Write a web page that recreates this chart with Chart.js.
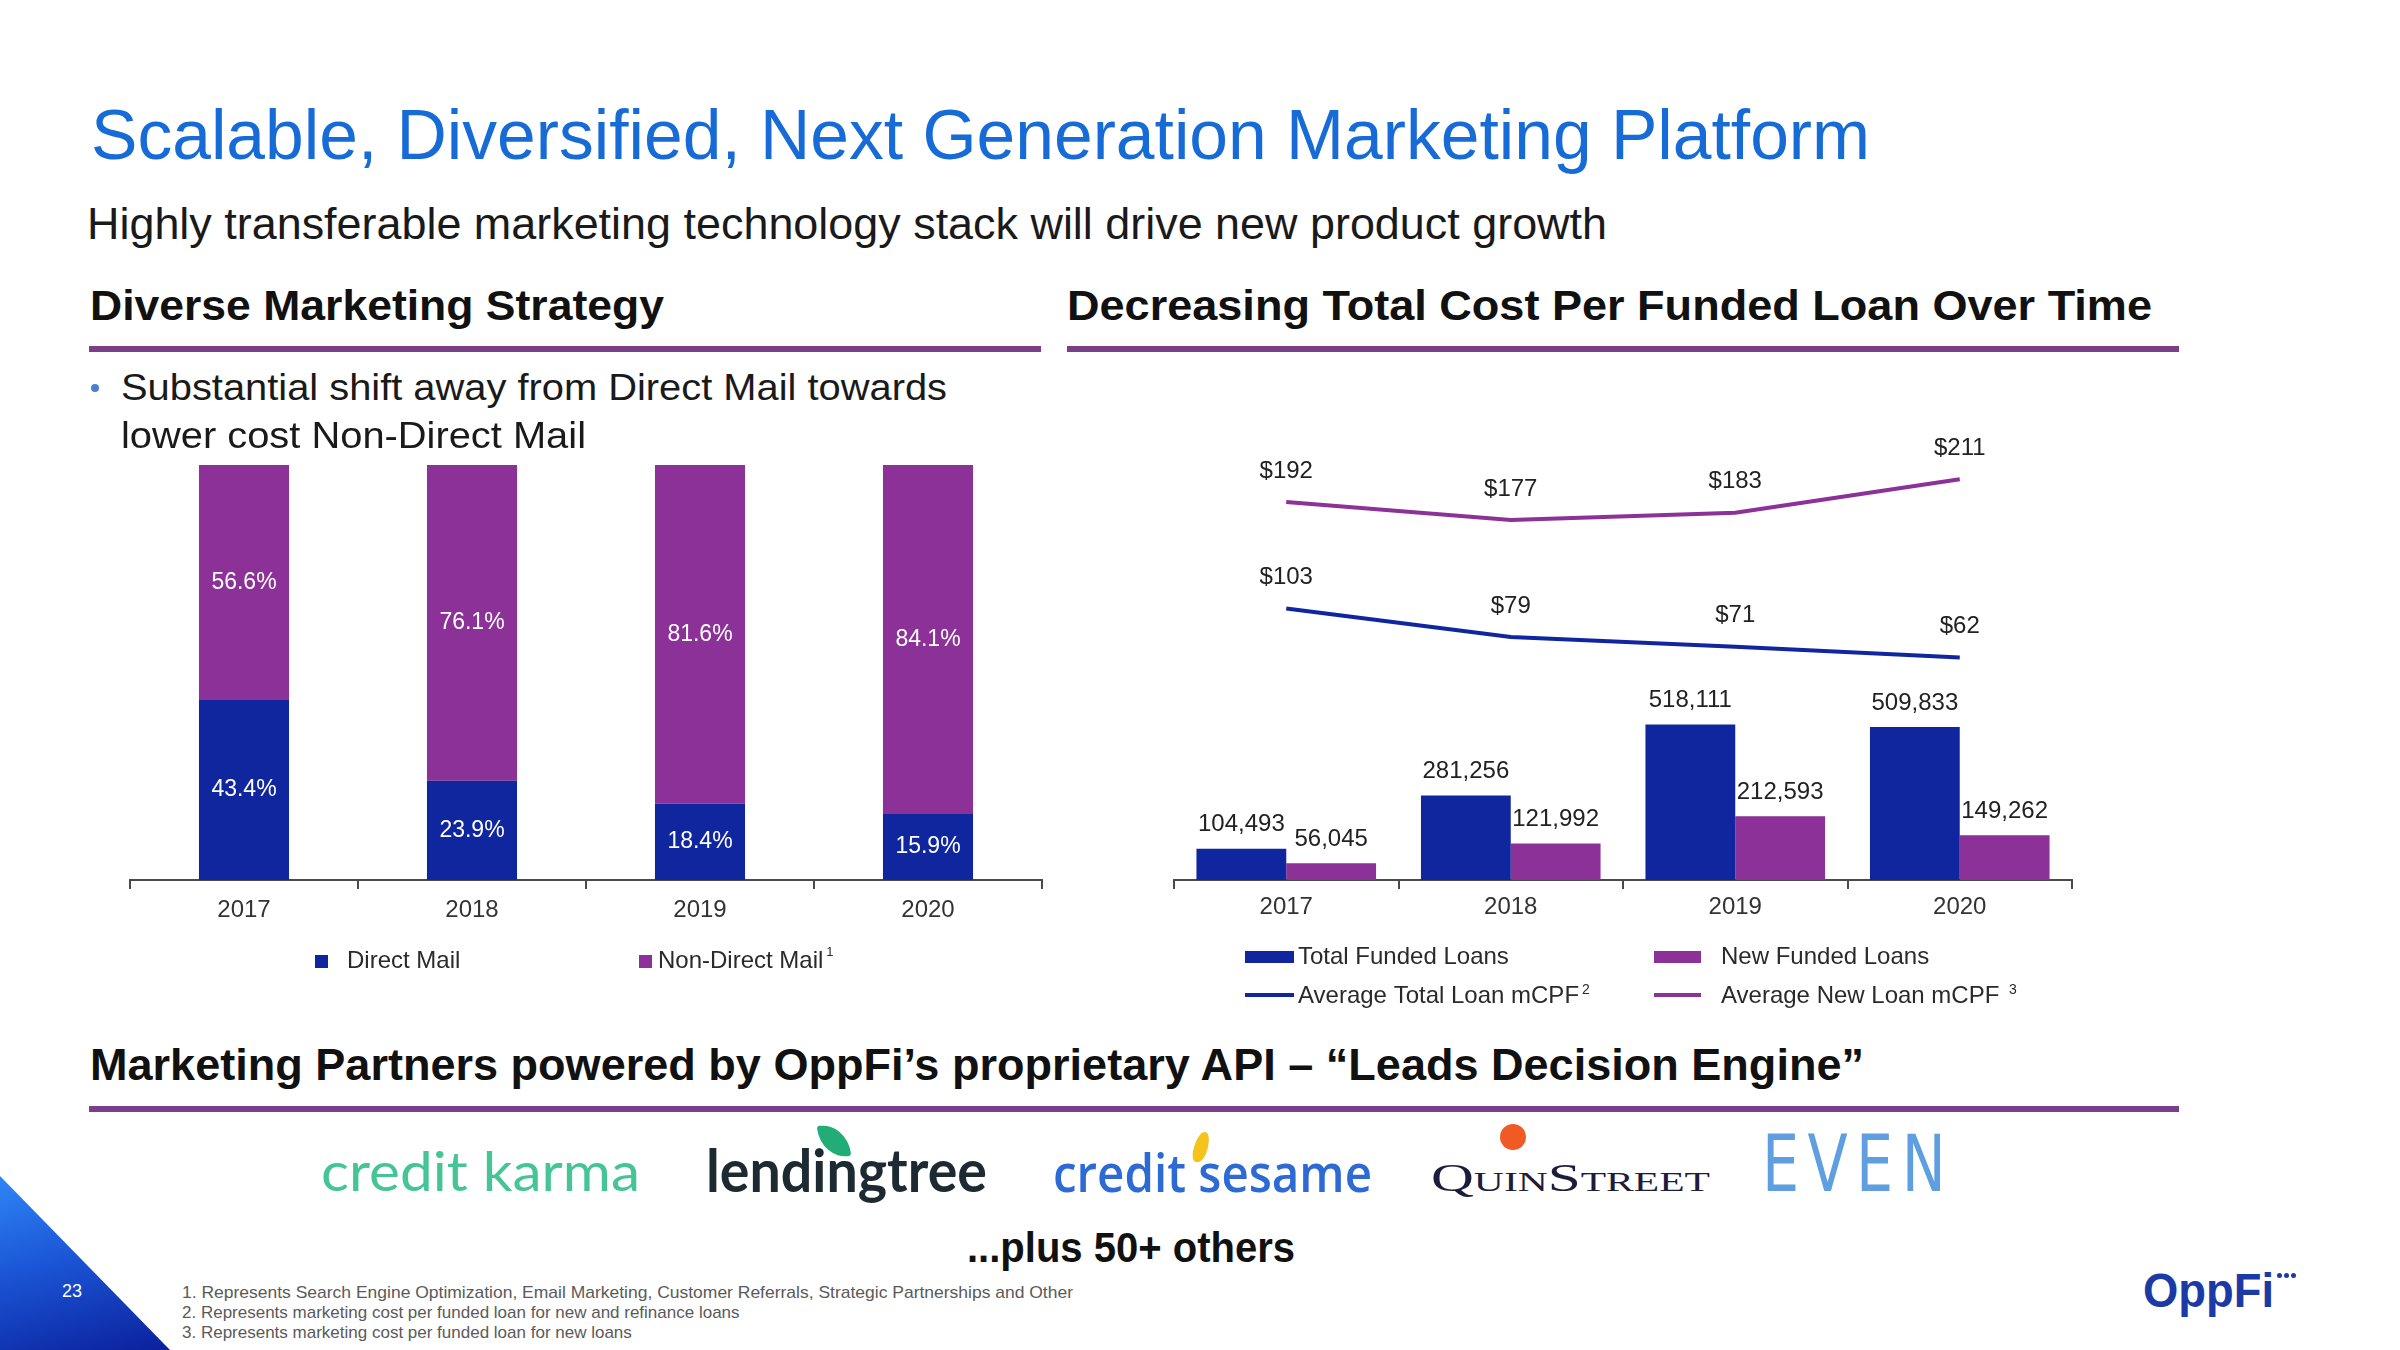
<!DOCTYPE html>
<html>
<head>
<meta charset="utf-8">
<script src="https://cdn.jsdelivr.net/npm/chart.js@4.4.1/dist/chart.umd.min.js"></script>
<style>
  html, body { margin: 0; padding: 0; background: #fff; }
  #page { position: relative; width: 2400px; height: 1350px; overflow: hidden; background: #fff; }
  .t { position: absolute; white-space: nowrap; line-height: 1.2; }
  .probe { display: inline-block; width: 0; height: 0; vertical-align: baseline; }
  .shape { position: absolute; }
  canvas { position: absolute; }
</style>
</head>
<body>
<div id="page">
  <canvas id="mixChart" width="960" height="560" style="left:100px;top:440px;"></canvas>
  <canvas id="loanChart" width="950" height="620" style="left:1150px;top:400px;"></canvas>
</div>
<script>
// ---------------- DATA ----------------
const years = ['2017', '2018', '2019', '2020'];

const mixSeriesLabels = ['Direct Mail', 'Non-Direct Mail'];
const mixNoteRefs = ['', '1'];
const directMailShare = [43.4, 23.9, 18.4, 15.9];
const nonDirectMailShare = [56.6, 76.1, 81.6, 84.1];

const loanSeriesLabels = ['Total Funded Loans', 'New Funded Loans', 'Average Total Loan mCPF', 'Average New Loan mCPF '];
const loanNoteRefs = ['', '', '2', '3'];
const totalFundedLoans = [104493, 281256, 518111, 509833];
const newFundedLoans = [56045, 121992, 212593, 149262];
const avgTotalLoanCPF = [103, 79, 71, 62];
const avgNewLoanCPF = [192, 177, 183, 211];

// ---------------- STYLE ----------------
const SANS = '"Liberation Sans", Arial, Helvetica, sans-serif';
const BLUE = '#10269f';
const PURPLE = '#8b3197';
const AXIS = '#4a4a4a';
const page = document.getElementById('page');

function addText(o) {
  const d = document.createElement('div');
  d.className = 't';
  d.textContent = o.text;
  d.style.left = o.x + 'px';
  d.style.top = '0px';
  d.style.fontSize = o.fs + 'px';
  d.style.fontWeight = o.w || 400;
  d.style.color = o.c || '#1a1a1a';
  d.style.fontFamily = o.f || SANS;
  if (o.extra) Object.assign(d.style, o.extra);
  page.appendChild(d);
  const probe = document.createElement('span');
  probe.className = 'probe';
  d.appendChild(probe);
  const base = probe.offsetTop;
  d.removeChild(probe);
  d.style.top = (o.y - base) + 'px';
  if (o.width) {
    const wNat = d.getBoundingClientRect().width;
    d.style.transformOrigin = '0px ' + base + 'px';
    d.style.transform = 'scaleX(' + (o.width / wNat) + ')';
  }
  return d;
}
function addShape(style) {
  const d = document.createElement('div');
  d.className = 'shape';
  Object.assign(d.style, style);
  page.appendChild(d);
  return d;
}

// ---------------- SLIDE TEXT ----------------
addText({ text: 'Scalable, Diversified, Next Generation Marketing Platform', x: 91, y: 159, fs: 71, c: '#176bd6', width: 1779 });
addText({ text: 'Highly transferable marketing technology stack will drive new product growth', x: 87, y: 239, fs: 44, c: '#1a1a1a', width: 1520 });
addText({ text: 'Diverse Marketing Strategy', x: 90, y: 320, fs: 42, w: 700, c: '#111', width: 574 });
addText({ text: 'Decreasing Total Cost Per Funded Loan Over Time', x: 1067, y: 320, fs: 42, w: 700, c: '#111', width: 1085 });
addShape({ left: '89px', top: '346px', width: '952px', height: '6px', background: '#7b3f88' });
addShape({ left: '1067px', top: '346px', width: '1112px', height: '6px', background: '#7b3f88' });

addShape({ left: '91px', top: '384px', width: '8px', height: '8px', borderRadius: '50%', background: '#4a7fd0' });
addText({ text: 'Substantial shift away from Direct Mail towards', x: 121, y: 400, fs: 37, c: '#1a1a1a', width: 826 });
addText({ text: 'lower cost Non-Direct Mail', x: 121, y: 448, fs: 37, c: '#1a1a1a', width: 465 });

addText({ text: 'Marketing Partners powered by OppFi\u2019s proprietary API \u2013 \u201CLeads Decision Engine\u201D', x: 90, y: 1080, fs: 44, w: 700, c: '#111', width: 1774 });
addShape({ left: '89px', top: '1106px', width: '2090px', height: '6px', background: '#7b3f88' });

// partner logos (as text)
addText({ text: 'credit karma', x: 321, y: 1191, fs: 54, w: 400, c: '#45c595', f: 'Lato, "Open Sans", sans-serif', width: 319 });
addText({ text: 'lendingtree', x: 706, y: 1192, fs: 60, w: 700, c: '#1d2a31', f: 'Lato, "Open Sans", sans-serif', width: 281 });
addShape({ left: '819px', top: '1124px', width: '30px', height: '34px', background: '#22ad76', borderRadius: '3px 100% 3px 100%', transform: 'rotate(-8deg)' });
addText({ text: 'credit sesame', x: 1053, y: 1192, fs: 52, w: 600, c: '#2d6ad4', f: '"Open Sans", Lato, sans-serif', width: 319 });
addShape({ left: '1194px', top: '1132px', width: '14px', height: '30px', background: '#f6c21c', borderRadius: '60% 60% 50% 50%', transform: 'skewX(-14deg)' });
addText({ text: 'QuinStreet', x: 1431, y: 1191, fs: 40, c: '#1b1d3a', f: '"Liberation Serif", "DejaVu Serif", serif', extra: { fontVariant: 'small-caps' }, width: 279 });
addShape({ left: '1500px', top: '1124px', width: '26px', height: '26px', borderRadius: '50%', background: '#f05a24' });
addText({ text: 'EVEN', x: 1762, y: 1191, fs: 78, c: '#5f9fe0', f: '"DejaVu Sans Condensed", "Liberation Sans Narrow", sans-serif', extra: { letterSpacing: '10px' }, width: 192 });

addText({ text: '...plus 50+ others', x: 967, y: 1262, fs: 42, w: 700, c: '#111', width: 328 });

addText({ text: '1.  Represents Search Engine Optimization, Email Marketing, Customer Referrals, Strategic Partnerships and Other', x: 182, y: 1298, fs: 17, c: '#5a5a5a', width: 891 });
addText({ text: '2.  Represents marketing cost per funded loan for new and refinance loans', x: 182, y: 1318, fs: 17, c: '#5a5a5a' });
addText({ text: '3.  Represents marketing cost per funded loan for new loans', x: 182, y: 1338, fs: 17, c: '#5a5a5a' });

// corner triangle + page number
addShape({ left: '0px', top: '1176px', width: '170px', height: '174px', clipPath: 'polygon(0 0, 100% 100%, 0 100%)',
  background: 'linear-gradient(165deg, #2f86f6 0%, #1b56d6 45%, #0b209c 100%)' });
addText({ text: '23', x: 62, y: 1297, fs: 18, c: '#ffffff' });

// OppFi logo
addText({ text: 'OppFi', x: 2143, y: 1307, fs: 48, w: 700, c: '#1b3aa6', width: 131 });
[2279, 2286, 2293].forEach(function (cx) {
  addShape({ left: (cx - 2.5) + 'px', top: '1273px', width: '5px', height: '5px', borderRadius: '50%', background: '#1b3aa6' });
});

// ---------------- CHART HELPERS ----------------
function font(size) { return size + 'px ' + SANS; }

const mixLabelPlugin = {
  id: 'mixLabels',
  afterDatasetsDraw(chart) {
    const ctx = chart.ctx;
    ctx.save();
    ctx.font = font(23);
    ctx.fillStyle = '#ffffff';
    ctx.textAlign = 'center';
    ctx.textBaseline = 'middle';
    chart.data.datasets.forEach(function (ds, i) {
      chart.getDatasetMeta(i).data.forEach(function (el, j) {
        ctx.fillText(ds.data[j].toFixed(1) + '%', el.x, (el.y + el.base) / 2);
      });
    });
    ctx.restore();
  }
};

const mixLegendPlugin = {
  id: 'mixLegend',
  afterDraw(chart) {
    const ctx = chart.ctx;
    const items = [{ mx: 215, tx: 247 }, { mx: 539, tx: 558 }];
    const cy = 521;
    ctx.save();
    chart.data.datasets.forEach(function (ds, i) {
      const it = items[i];
      ctx.fillStyle = ds.backgroundColor;
      ctx.fillRect(it.mx, cy - 6, 13, 13);
      ctx.font = font(24);
      ctx.fillStyle = '#2a2a2a';
      ctx.textAlign = 'left';
      ctx.textBaseline = 'middle';
      ctx.fillText(ds.label, it.tx, cy);
      if (mixNoteRefs[i]) {
        const w = ctx.measureText(ds.label).width;
        ctx.font = font(13);
        ctx.fillText(mixNoteRefs[i], it.tx + w + 3, cy - 9);
      }
    });
    ctx.restore();
  }
};

const loanLabelPlugin = {
  id: 'loanLabels',
  afterDatasetsDraw(chart) {
    const ctx = chart.ctx;
    ctx.save();
    ctx.font = font(24);
    ctx.fillStyle = '#222';
    ctx.textAlign = 'center';
    ctx.textBaseline = 'middle';
    chart.data.datasets.forEach(function (ds, i) {
      const meta = chart.getDatasetMeta(i);
      meta.data.forEach(function (el, j) {
        const v = ds.data[j];
        if (meta.type === 'line') {
          ctx.fillText('$' + v, el.x, el.y - 31);
        } else {
          ctx.fillText(v.toLocaleString('en-US'), el.x, el.y - 24);
        }
      });
    });
    ctx.restore();
  }
};

const loanLegendPlugin = {
  id: 'loanLegend',
  afterDraw(chart) {
    const ctx = chart.ctx;
    const pos = [
      { mx: 95, mw: 49, tx: 148, cy: 557 },
      { mx: 504, mw: 47, tx: 571, cy: 557 },
      { mx: 95, mw: 49, tx: 148, cy: 596 },
      { mx: 504, mw: 47, tx: 571, cy: 596 }
    ];
    ctx.save();
    chart.data.datasets.forEach(function (ds, i) {
      const p = pos[i];
      if (ds.type === 'line') {
        ctx.strokeStyle = ds.borderColor;
        ctx.lineWidth = 4;
        ctx.beginPath();
        ctx.moveTo(p.mx, p.cy - 1);
        ctx.lineTo(p.mx + p.mw, p.cy - 1);
        ctx.stroke();
      } else {
        ctx.fillStyle = ds.backgroundColor;
        ctx.fillRect(p.mx, p.cy - 6, p.mw, 12);
      }
      ctx.font = font(24);
      ctx.fillStyle = '#2a2a2a';
      ctx.textAlign = 'left';
      ctx.textBaseline = 'middle';
      ctx.fillText(ds.label, p.tx, p.cy);
      if (loanNoteRefs[i]) {
        const w = ctx.measureText(ds.label).width;
        ctx.font = font(14);
        ctx.fillText(loanNoteRefs[i], p.tx + w + 3, p.cy - 6);
      }
    });
    ctx.restore();
  }
};

function xAxis(height, pad) {
  return {
    grid: { display: true, drawOnChartArea: false, drawTicks: true, tickLength: 9, color: AXIS, lineWidth: 2, offset: true },
    border: { display: true, color: AXIS, width: 2 },
    ticks: { color: '#333', font: { family: SANS, size: 24 }, padding: pad },
    afterFit: function (s) { s.height = height; }
  };
}

// ---------------- LEFT CHART ----------------
new Chart(document.getElementById('mixChart'), {
  type: 'bar',
  data: {
    labels: years,
    datasets: [
      { label: mixSeriesLabels[0], data: directMailShare, backgroundColor: BLUE, barPercentage: 0.395, categoryPercentage: 1 },
      { label: mixSeriesLabels[1], data: nonDirectMailShare, backgroundColor: PURPLE, barPercentage: 0.395, categoryPercentage: 1 }
    ]
  },
  options: {
    responsive: false, animation: false, devicePixelRatio: 1,
    layout: { padding: { left: 30, right: 18, top: 25, bottom: 0 } },
    plugins: { legend: { display: false }, tooltip: { enabled: false } },
    scales: {
      x: Object.assign({ stacked: true }, xAxis(120, 7)),
      y: { stacked: true, display: false, min: 0, max: 100 }
    }
  },
  plugins: [mixLabelPlugin, mixLegendPlugin]
});

// ---------------- RIGHT CHART ----------------
new Chart(document.getElementById('loanChart'), {
  type: 'bar',
  data: {
    labels: years,
    datasets: [
      { type: 'bar', label: loanSeriesLabels[0], data: totalFundedLoans, backgroundColor: BLUE, yAxisID: 'y', categoryPercentage: 0.8, barPercentage: 1 },
      { type: 'bar', label: loanSeriesLabels[1], data: newFundedLoans, backgroundColor: PURPLE, yAxisID: 'y', categoryPercentage: 0.8, barPercentage: 1 },
      { type: 'line', label: loanSeriesLabels[2], data: avgTotalLoanCPF, borderColor: BLUE, backgroundColor: BLUE, borderWidth: 4, pointRadius: 0, tension: 0, yAxisID: 'y2' },
      { type: 'line', label: loanSeriesLabels[3], data: avgNewLoanCPF, borderColor: PURPLE, backgroundColor: PURPLE, borderWidth: 4, pointRadius: 0, tension: 0, yAxisID: 'y2' }
    ]
  },
  options: {
    responsive: false, animation: false, devicePixelRatio: 1,
    layout: { padding: { left: 24, right: 28, top: 30, bottom: 0 } },
    plugins: { legend: { display: false }, tooltip: { enabled: false } },
    scales: {
      x: xAxis(140, 4),
      y: { display: false, min: 0, max: 1500000 },
      y2: { display: false, min: -124.3, max: 252.3 }
    }
  },
  plugins: [loanLabelPlugin, loanLegendPlugin]
});
</script>
</body>
</html>
